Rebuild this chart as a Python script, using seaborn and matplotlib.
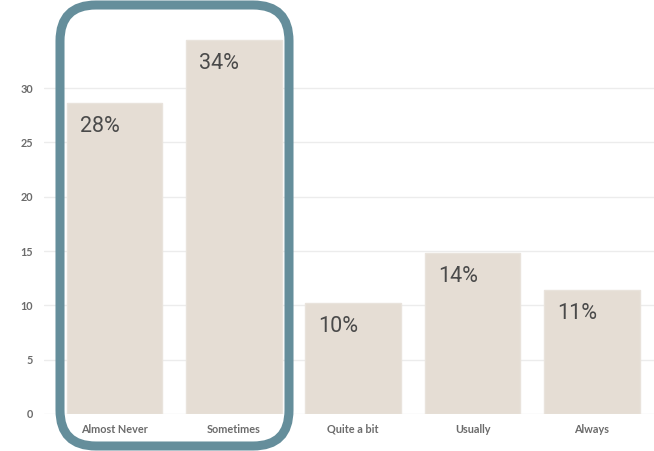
import matplotlib
matplotlib.use("Agg")
import matplotlib.pyplot as plt
from matplotlib.patches import FancyBboxPatch
import seaborn as sns
import pandas as pd

categories = ["Almost Never", "Sometimes", "Quite a bit", "Usually", "Always"]
values = [28.6, 34.4, 10.2, 14.8, 11.4]
yticks = [0, 5, 10, 15, 20, 25, 30]

df = pd.DataFrame({"category": categories, "value": values})

sns.set_theme(style="white")
plt.rcParams["font.family"] = ["Lato", "DejaVu Sans"]

fig = plt.figure(figsize=(6.54, 4.51), dpi=100)
ax = fig.add_axes([44 / 654, 37 / 451, 610 / 654, 414 / 451])

sns.barplot(data=df, x="category", y="value", color="#e5ddd4", saturation=1,
            width=0.8, edgecolor="#e9e3dc", linewidth=1, ax=ax, zorder=2)

ax.set_xlim(-0.59, 4.52)
ax.set_ylim(0, 38.1)
ax.set_yticks(yticks)
ax.set_yticklabels([str(t) for t in yticks])
ax.grid(axis="y", color="#ececec", linewidth=1, zorder=0)
ax.set_axisbelow(True)
for s in ax.spines.values():
    s.set_visible(False)
ax.set_xlabel("")
ax.set_ylabel("")
ax.tick_params(axis="both", length=0, labelsize=7.8, labelcolor="#6b6b6b")
ax.tick_params(axis="y", pad=8)
ax.tick_params(axis="x", pad=7)
for lbl in ax.get_xticklabels() + ax.get_yticklabels():
    lbl.set_fontweight("bold")

# percentage labels inside the top-left corner of each bar
for bar, v in zip(ax.patches, values):
    ax.annotate(f"{int(v)}%", xy=(bar.get_x(), v), xytext=(9.5, -9),
                textcoords="offset points", ha="left", va="top",
                fontsize=15.5, color="#4a4a4a", fontweight="normal",
                family=["Roboto", "DejaVu Sans"], zorder=3)

# rounded highlight around the first two categories
box = FancyBboxPatch((60 / 654, 5 / 451), 229 / 654, 441 / 451,
                     boxstyle="round,pad=0,rounding_size=0.055",
                     transform=fig.transFigure, fill=False,
                     edgecolor="#658e9b", linewidth=6.5, zorder=5,
                     mutation_aspect=654 / 451)
fig.patches.append(box)

fig.savefig("out.png", dpi=100)
